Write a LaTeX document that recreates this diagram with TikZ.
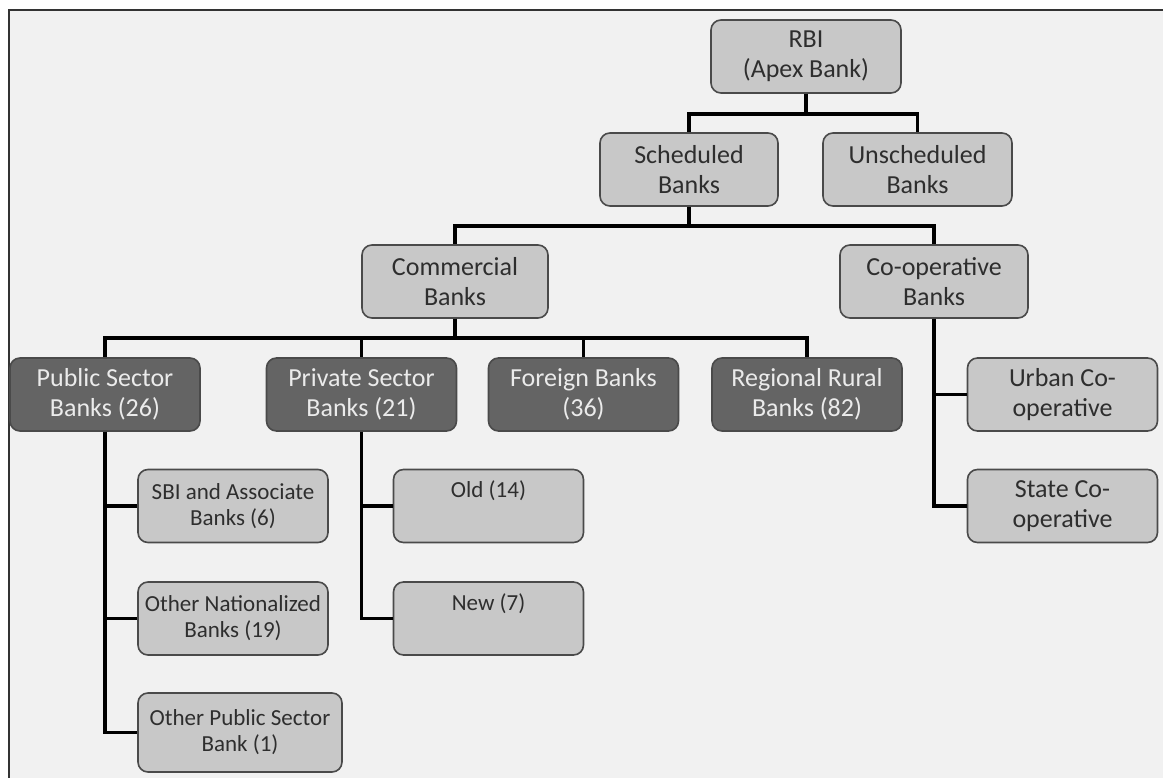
\documentclass[tikz,border=0pt]{standalone}
\usepackage{fontspec}
\setmainfont{Carlito}
\definecolor{panelbg}{HTML}{F1F1F1}
\definecolor{lightfill}{HTML}{C8C8C8}
\definecolor{darkfill}{HTML}{646464}
\definecolor{boxline}{HTML}{4A4A4A}
\begin{document}
\begin{tikzpicture}[x=1pt,y=-1pt,
  every node/.style={font=\fontsize{26}{30}\selectfont},
  bank/.style={draw=boxline,line width=1.6pt,fill=lightfill,rounded corners=10pt,minimum width=190pt,minimum height=73pt,align=center,text=black!82,inner sep=0pt},
  mainbank/.style={bank,fill=darkfill,text=white!92!black},
  subbank/.style={bank,font=\fontsize{23}{26}\selectfont},
  link/.style={line width=3.5pt}]
  \useasboundingbox (0,0) rectangle (1163,778);
  \fill[white] (0,0) rectangle (1163,778);
  \draw[black!80,line width=2pt,fill=panelbg] (9,10) rectangle (1190,800);
  % top levels
  \node[bank] (rbi) at (806,56.5) {RBI\\(Apex Bank)};
  \node[bank,minimum width=178pt] (sched) at (689,169.5) {Scheduled\\Banks};
  \node[bank,minimum width=189pt] (unsched) at (917.5,169.5) {Unscheduled\\Banks};
  \node[bank,minimum width=186pt] (comm) at (455,281.5) {Commercial\\Banks};
  \node[bank,minimum width=188pt] (coop) at (934,281.5) {Co-operative\\Banks};
  % commercial banks
  \node[mainbank] (pub) at (105,394.5) {Public Sector\\Banks (26)};
  \node[mainbank] (priv) at (361.5,394.5) {Private Sector\\Banks (21)};
  \node[mainbank] (forgn) at (583.5,394.5) {Foreign Banks\\(36)};
  \node[mainbank] (rrb) at (807,394.5) {Regional Rural\\Banks (82)};
  % public and private sub-groups
  \node[subbank] (sbi) at (233,506) {SBI and Associate\\Banks (6)};
  \node[subbank] (othnat) at (233,618.5) {Other Nationalized\\Banks (19)};
  \node[subbank,minimum width=204pt,minimum height=79pt] (othpub) at (240,732.5) {Other Public Sector\\Bank (1)};
  \node[subbank] (old) at (488.5,506) {Old (14)\\\strut};
  \node[subbank] (new) at (488.5,618.5) {New (7)\\\strut};
  % co-operative banks
  \node[bank] (urban) at (1062.5,394.5) {Urban Co-\\operative};
  \node[bank] (state) at (1062.5,506) {State Co-\\operative};
  % connectors
  \draw[link] (rbi.south) -- ++(0,20) -| (sched.north);
  \draw[link] (rbi.south) -- ++(0,20) -| (unsched.north);
  \draw[link] (sched.south) -- ++(0,19) -| (comm.north);
  \draw[link] (sched.south) -- ++(0,19) -| (coop.north);
  \foreach \b in {pub,priv,forgn,rrb}
    \draw[link] (comm.south) -- ++(0,19) -| (\b.north);
  \foreach \b in {sbi,othnat,othpub}
    \draw[link] (pub.south) |- (\b.west);
  \foreach \b in {old,new}
    \draw[link] (priv.south) |- (\b.west);
  \foreach \b in {urban,state}
    \draw[link] (coop.south) |- (\b.west);
\end{tikzpicture}
\end{document}
